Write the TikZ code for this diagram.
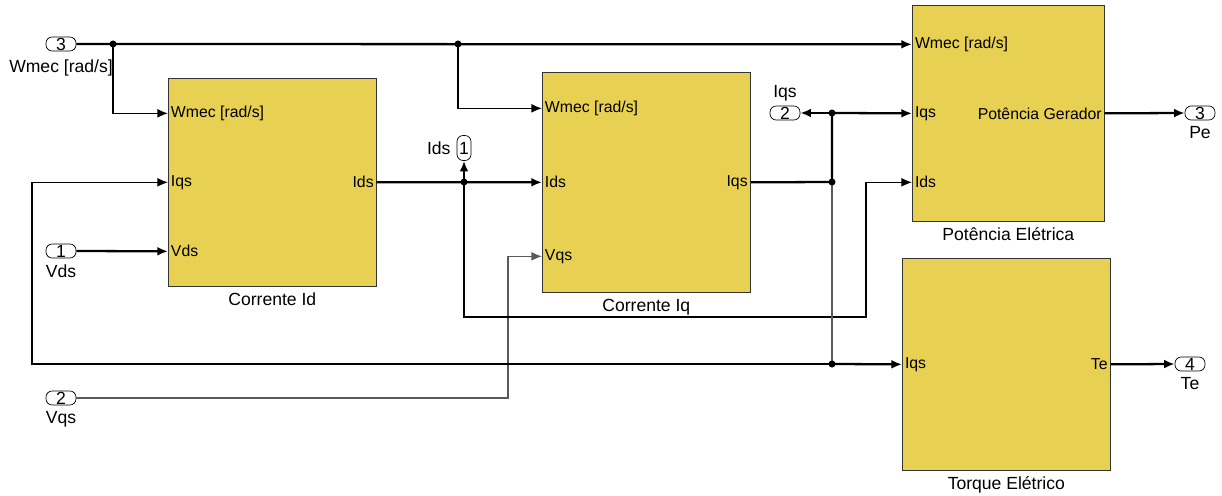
\documentclass[tikz,border=0pt]{standalone}
\usepackage{fontspec}
\setmainfont{Liberation Sans}
\usepackage{tikz}
\usetikzlibrary{positioning, arrows.meta, calc}
\definecolor{BlockYellow}{RGB}{232,208,82}
\definecolor{WireGray}{RGB}{90,90,90}

\begin{document}
\begin{tikzpicture}[
  x=0.02cm, y=-0.02cm, every node/.style={font=\fontsize{10}{12}\selectfont},
  block/.style={draw=black!80, fill=BlockYellow, anchor=north west, inner sep=0pt},
  portlbl/.style={font=\fontsize{9}{11}\selectfont, inner sep=1.5pt},
  ioport/.style={draw, rounded corners=3.5pt, minimum width=0.6cm, minimum height=0.28cm, inner sep=0pt, font=\fontsize{10}{10}\selectfont},
  vport/.style={draw, rounded corners=3.5pt, minimum width=0.28cm, minimum height=0.5cm, inner sep=0pt, font=\fontsize{10}{10}\selectfont},
  bus/.style={-{Latex[length=6pt,width=5pt]}, line width=1.3pt},
  wire/.style={-{Latex[length=6pt,width=5pt]}, line width=0.7pt},
  plain/.style={line width=1.3pt},
  dot/.style={circle, fill, inner sep=0pt, minimum size=4pt}
]
\useasboundingbox (0,0) rectangle (1222,496);

% Blocks
\node[block, minimum width=4.16cm, minimum height=4.16cm] (cid) at (168,78) {};
\node[below=0pt of cid] {Corrente Id};
\node[block, minimum width=4.16cm, minimum height=4.4cm] (ciq) at (542,72) {};
\node[below=0pt of ciq] {Corrente Iq};
\node[block, minimum width=3.84cm, minimum height=4.32cm] (pot) at (912,5) {};
\node[below=0pt of pot] {Potência Elétrica};
\node[block, minimum width=4.16cm, minimum height=4.24cm] (torq) at (902,258) {};
\node[below=0pt of torq] {Torque Elétrico};

% Block ports
\coordinate (cid-w) at ($(cid.west)+(0,-69)$);
\coordinate (cid-iqs) at (cid.west);
\coordinate (cid-vds) at ($(cid.west)+(0,69)$);
\coordinate (ciq-w) at ($(ciq.west)+(0,-74)$);
\coordinate (ciq-ids) at (ciq.west);
\coordinate (ciq-vqs) at ($(ciq.west)+(0,74)$);
\coordinate (pot-w) at ($(pot.west)+(0,-69)$);
\coordinate (pot-iqs) at (pot.west);
\coordinate (pot-ids) at ($(pot.west)+(0,69)$);
\node[portlbl, anchor=west] at (cid-w) {Wmec [rad/s]};
\node[portlbl, anchor=west] at (cid-iqs) {Iqs};
\node[portlbl, anchor=west] at (cid-vds) {Vds};
\node[portlbl, anchor=east] at (cid.east) {Ids};
\node[portlbl, anchor=west] at (ciq-w) {Wmec [rad/s]};
\node[portlbl, anchor=west] at (ciq-ids) {Ids};
\node[portlbl, anchor=west] at (ciq-vqs) {Vqs};
\node[portlbl, anchor=east] at (ciq.east) {Iqs};
\node[portlbl, anchor=west] at (pot-w) {Wmec [rad/s]};
\node[portlbl, anchor=west] at (pot-iqs) {Iqs};
\node[portlbl, anchor=west] at (pot-ids) {Ids};
\node[portlbl, anchor=east] at (pot.east) {Potência Gerador};
\node[portlbl, anchor=west] at (torq.west) {Iqs};
\node[portlbl, anchor=east] at (torq.east) {Te};

% Inports
\node[ioport] (in3) at (61,44) {3};
\node[below=1pt of in3] {Wmec [rad/s]};
\node[ioport] (in1) at (61,251) {1};
\node[below=0pt of in1] {Vds};
\node[ioport] (in2) at (61,398) {2};
\node[below=0pt of in2] {Vqs};

% Outports
\node[ioport] (out2) at (785,113) {2};
\node[above=-1pt of out2] {Iqs};
\node[vport] (out1) at (464,148) {1};
\node[left=0pt of out1] {Ids};
\node[ioport] (out3) at (1200,113) {3};
\node[below=0pt of out3] {Pe};
\node[ioport] (out4) at (1190,364) {4};
\node[below=0pt of out4] {Te};

% Wmec
\coordinate (wa) at (113,44);
\coordinate (wb) at (458,44);
\draw[bus] (in3.east) -- (pot-w);
\draw[wire] (wa) |- (cid-w);
\draw[wire] (wb) |- (ciq-w);
\node[dot] at (wa) {};
\node[dot] at (wb) {};

% Vds and Vqs
\draw[bus] (in1.east) -- (cid-vds);
\draw[wire, WireGray] (in2.east) -| (508,300) |- (ciq-vqs);

% Ids
\coordinate (ia) at (464,182);
\draw[bus] (cid.east) -- (ciq-ids);
\draw[bus] (ia) -- (out1.south);
\draw[wire] (ia) -- (464,317) -| (866,250) |- (pot-ids);
\node[dot] at (ia) {};

% Iqs
\coordinate (qa) at (832,182);
\coordinate (qb) at (832,113);
\coordinate (qc) at (832,364);
\draw[plain] (ciq.east) -- (qa) -- (qb);
\draw[bus] (qb) -- (out2.east);
\draw[bus] (qb) -- (pot-iqs);
\draw[line width=0.9pt, WireGray] (qa) -- (qc);
\draw[bus] (qc) -- (torq.west);
\draw[wire] (qc) -- (32,364) |- (cid-iqs);
\node[dot] at (qa) {};
\node[dot] at (qb) {};
\node[dot] at (qc) {};

% Outputs
\draw[bus] (pot.east) -- (out3.west);
\draw[bus] (torq.east) -- (out4.west);

\end{tikzpicture}
\end{document}
